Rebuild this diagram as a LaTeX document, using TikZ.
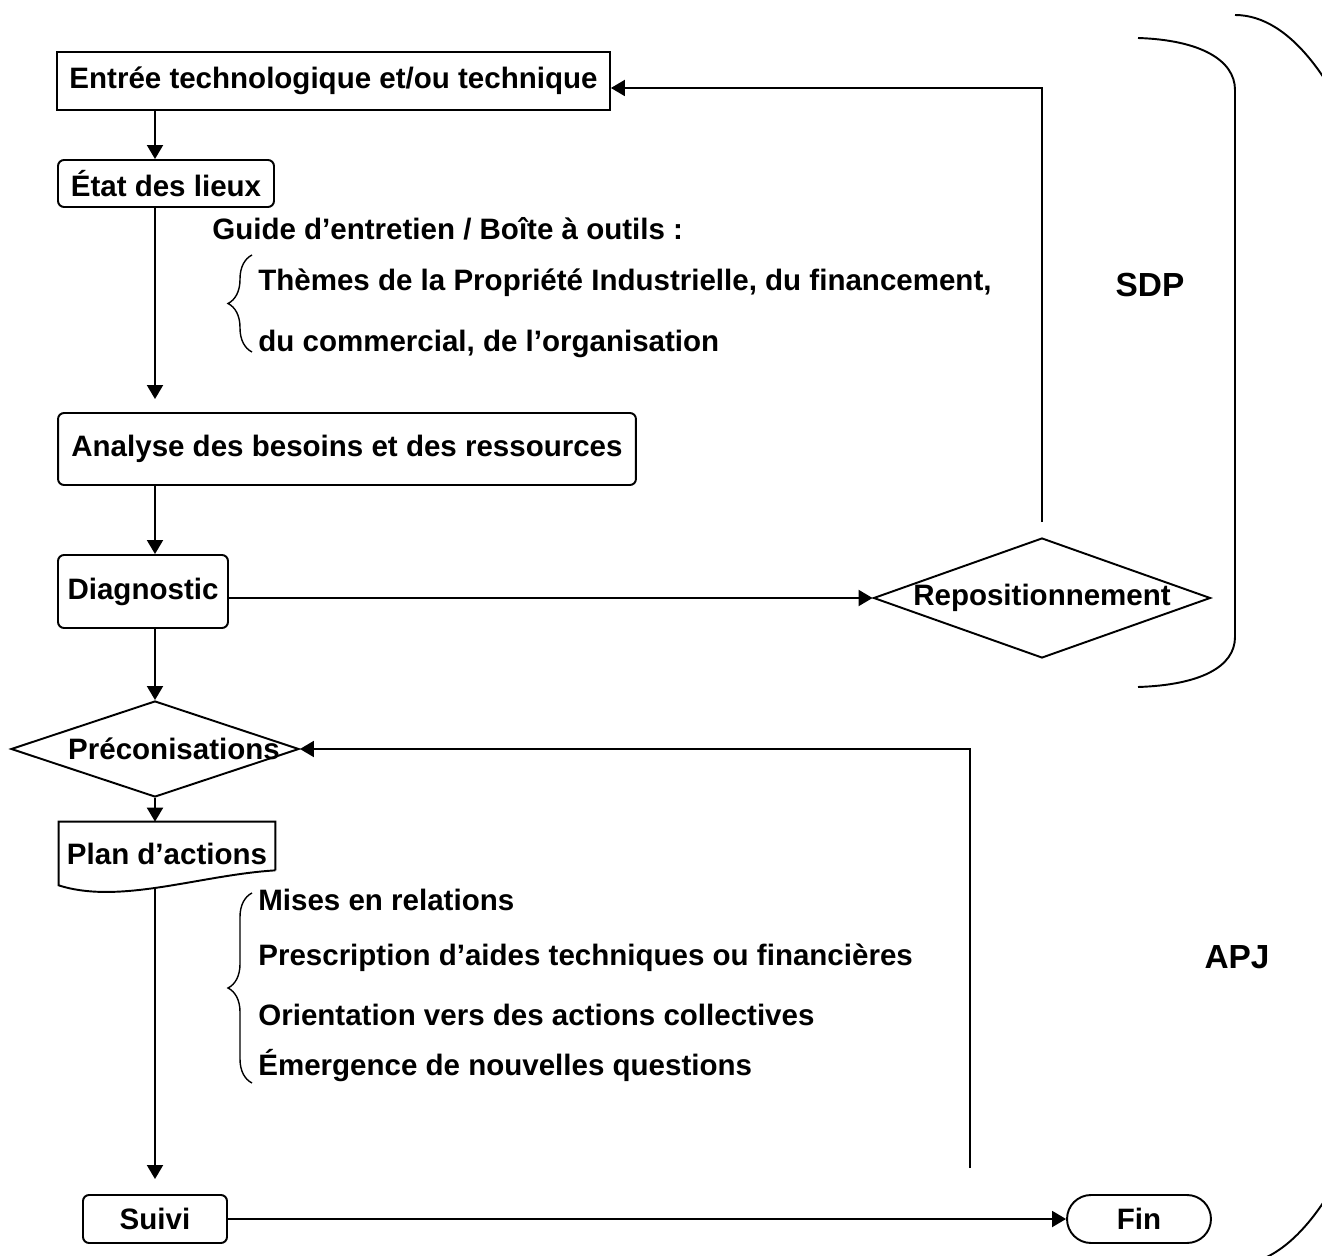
\documentclass[tikz,border=0pt]{standalone}
\usepackage{fontspec}
\setmainfont{Liberation Sans}
\usetikzlibrary{shapes.geometric, arrows.meta, decorations.pathreplacing}

\tikzset{
  box/.style={draw, line width=1.1pt, inner sep=0pt},
  roundbox/.style={box, rounded corners=0.12cm},
  endbox/.style={box, rounded corners=0.48cm},
  decision/.style={draw, diamond, line width=1.1pt, inner sep=0pt},
  note/.style={anchor=west, inner sep=0pt},
  flow/.style={->, line width=1.1pt},
  listbrace/.style={decorate, decoration={brace, amplitude=0.48cm}, line width=0.8pt}
}

\begin{document}
\begin{tikzpicture}[x=0.02cm, y=-0.02cm, >={Triangle[length=0.28cm, width=0.32cm]},
  font=\fontsize{16.8}{20}\selectfont\bfseries]

\useasboundingbox (0,0) rectangle (1322,1256);

%main column of steps
\node[box, minimum width=11.06cm, minimum height=1.16cm] (entree) at (333.5,81) {Entrée technologique et/ou technique};
\node[roundbox, minimum width=4.32cm, minimum height=0.94cm] (etat) at (166,183.5) {État des lieux};
\node[roundbox, minimum width=11.56cm, minimum height=1.44cm] (analyse) at (347,449) {Analyse des besoins et des ressources};
\node[roundbox, minimum width=3.4cm, minimum height=1.46cm] (diag) at (143,591.5) {\raisebox{-0.12cm}{Diagnostic}};
\node[decision, minimum width=6.74cm, minimum height=2.4cm] (repos) at (1042,598) {\makebox[0pt]{Repositionnement}};
\node[decision, minimum width=5.76cm, minimum height=1.92cm] (precon) at (155,749) {\makebox[0pt]{\hspace{0.76cm}Préconisations}};
\node[inner sep=0pt, minimum width=4.32cm, minimum height=1.26cm] (plan) at (167,853.5) {Plan d’actions};
\node[roundbox, minimum width=2.88cm, minimum height=0.96cm] (suivi) at (155,1219) {Suivi};
\node[endbox, minimum width=2.88cm, minimum height=0.96cm] (fin) at (1139,1219) {Fin};

%document shape round the plan
\draw[line width=1.1pt] ([yshift=0.3cm]plan.south east) -- (plan.north east) -- (plan.north west) -- (plan.south west)
  .. controls (120,905) and (200,875) .. ([yshift=0.3cm]plan.south east);

%connectors
\coordinate (spine) at (155,0);
\coordinate (back) at (970,1168);
\draw[flow] (entree.south -| spine) -- (etat.north -| spine);
\draw[flow, shorten >=0.26cm] (etat.south -| spine) -- (analyse.north -| spine);
\draw[flow] (analyse.south -| spine) -- (diag.north -| spine);
\draw[flow] (diag.south -| spine) -- (precon.north);
\draw[flow] (precon.south) -- (plan.north -| spine);
\draw[flow, shorten >=0.3cm] ([yshift=-0.05cm]plan.south -| spine) -- (suivi.north);
\draw[flow] (diag.east |- repos.west) -- (repos.west);
\draw[flow, shorten <=0.3cm] (repos.north) |- ([yshift=-0.14cm]entree.east);
\draw[flow] (back) |- (precon.east);
\draw[flow] (suivi) -- (fin);

%interview guide
\node[note] (guide) at (212,229) {Guide d’entretien / Boîte à outils :};
\node[note] (theme1) at (258,283) {Thèmes de la Propriété Industrielle, du financement,};
\node[note] (theme2) at (258,344) {du commercial, de l’organisation};
\draw[listbrace] (252,352) -- (252,255);

%outcomes of the plan
\node[note] (act1) at (258,900) {Mises en relations};
\node[note] (act2) at (258,958) {Prescription d’aides techniques ou financières};
\node[note] (act3) at (258,1015) {Orientation vers des actions collectives};
\node[note] (act4) at (258,1066) {Émergence de nouvelles questions};
\draw[listbrace] (252,1083) -- (252,893);

%phases on the right
\draw[line width=1.1pt] (1138,38) .. controls (1200,40) and (1235,60) .. (1235,90) -- (1235,637)
  .. controls (1235,667) and (1200,685) .. (1138,687);
\begin{scope}
\clip (0,0) rectangle (1322,1256);
\draw[line width=1.1pt] (1235,15) arc[start angle=90, end angle=-95, x radius=4.06cm, y radius=12.5cm];
\end{scope}
\node[font=\fontsize{19}{22}\selectfont\bfseries] (sdp) at (1150,285) {SDP};
\node[font=\fontsize{19}{22}\selectfont\bfseries] (apj) at (1237,957) {APJ};

\end{tikzpicture}
\end{document}
